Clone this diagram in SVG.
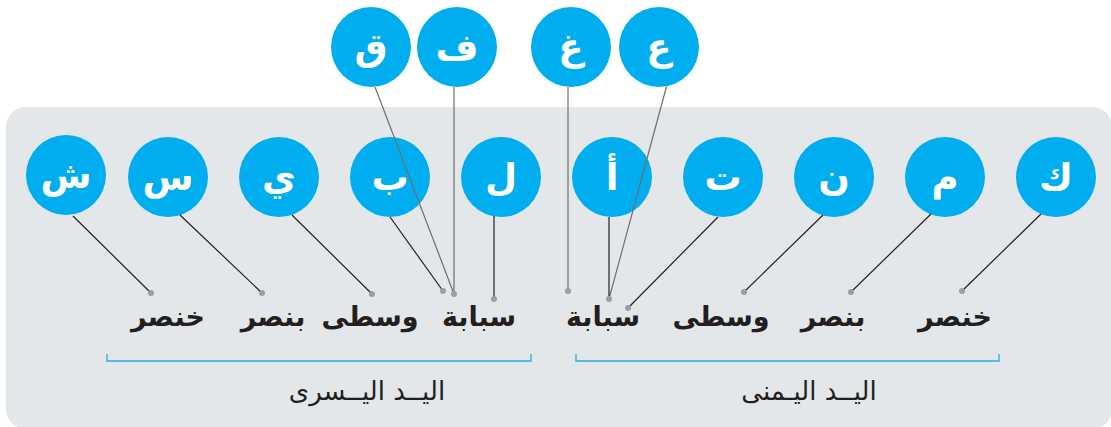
<svg xmlns="http://www.w3.org/2000/svg" width="1111" height="427" viewBox="0 0 1111 427">
  <style>
    .panel { fill: #e4e7ea; }
    .node circle { fill: #00aeef; }
    .node text { font-family: "DejaVu Sans", sans-serif; font-weight: bold; font-size: 37px; fill: #ffffff; text-anchor: middle; }
    .lead { stroke: #231f20; stroke-width: 1.2; fill: none; }
    .lead.top { stroke: #6d6e71; }
    .dot { fill: #9c9ea1; }
    .label { font-family: "DejaVu Sans", sans-serif; font-weight: bold; font-size: 27px; fill: #231f20; text-anchor: middle; }
    .hand { font-family: "DejaVu Sans", sans-serif; font-size: 26px; fill: #231f20; text-anchor: middle; }
    .brace { stroke: #29abe2; stroke-width: 1.3; fill: none; }
  </style>

  <!-- background card -->
  <rect class="panel" x="6" y="107" width="1106" height="322" rx="20" ry="20"/>

  <!-- letter nodes: upper row -->
  <g id="node-qaf" class="node"><circle cx="371" cy="47" r="40"/><text x="371" y="60">ق</text></g>
  <g id="node-fa" class="node"><circle cx="457" cy="47" r="40"/><text x="457" y="60">ف</text></g>
  <g id="node-ghain" class="node"><circle cx="571" cy="47" r="40"/><text x="571" y="60">غ</text></g>
  <g id="node-ain" class="node"><circle cx="659" cy="47" r="40"/><text x="659" y="60">ع</text></g>

  <!-- letter nodes: lower row -->
  <g id="node-shin" class="node"><circle cx="66" cy="175" r="40"/><text x="66" y="188">ش</text></g>
  <g id="node-sin" class="node"><circle cx="168" cy="177" r="40"/><text x="168" y="190">س</text></g>
  <g id="node-ya" class="node"><circle cx="279" cy="177" r="40"/><text x="279" y="190">ي</text></g>
  <g id="node-ba" class="node"><circle cx="390" cy="177" r="40"/><text x="390" y="190">ب</text></g>
  <g id="node-lam" class="node"><circle cx="501" cy="177" r="40"/><text x="501" y="190">ل</text></g>
  <g id="node-alif" class="node"><circle cx="612" cy="177" r="40"/><text x="612" y="190">أ</text></g>
  <g id="node-ta" class="node"><circle cx="723" cy="177" r="40"/><text x="723" y="190">ت</text></g>
  <g id="node-nun" class="node"><circle cx="834" cy="177" r="40"/><text x="834" y="190">ن</text></g>
  <g id="node-mim" class="node"><circle cx="945" cy="177" r="40"/><text x="945" y="190">م</text></g>
  <g id="node-kaf" class="node"><circle cx="1056" cy="177" r="40"/><text x="1056" y="190">ك</text></g>

  <!-- leader lines from letters to fingers -->
  <g id="connectors">
    <line class="lead" x1="73" y1="216" x2="151" y2="293"/>
    <line class="lead" x1="180" y1="215" x2="262" y2="293"/>
    <line class="lead" x1="292" y1="215" x2="372" y2="294"/>
    <line class="lead" x1="390" y1="217" x2="443" y2="291"/>
    <line class="lead" x1="494" y1="216" x2="494" y2="299"/>
    <line class="lead top" x1="375" y1="87" x2="454" y2="294"/>
    <line class="lead top" x1="454" y1="87" x2="454" y2="294"/>
    <line class="lead top" x1="568" y1="87" x2="568" y2="291"/>
    <line class="lead top" x1="666.5" y1="86.5" x2="609" y2="299"/>
    <line class="lead" x1="609" y1="217" x2="609" y2="299"/>
    <line class="lead" x1="718" y1="217" x2="628" y2="308"/>
    <line class="lead" x1="823" y1="215" x2="744" y2="292"/>
    <line class="lead" x1="931" y1="214" x2="851" y2="292"/>
    <line class="lead" x1="1041" y1="214" x2="962" y2="291"/>

    <circle class="dot" cx="151" cy="293" r="3"/>
    <circle class="dot" cx="262" cy="293" r="3"/>
    <circle class="dot" cx="372" cy="294" r="3"/>
    <circle class="dot" cx="443" cy="291" r="3"/>
    <circle class="dot" cx="454" cy="294" r="3"/>
    <circle class="dot" cx="494" cy="299" r="3"/>
    <circle class="dot" cx="568" cy="291" r="3"/>
    <circle class="dot" cx="609" cy="299" r="3"/>
    <circle class="dot" cx="628" cy="308" r="3"/>
    <circle class="dot" cx="744" cy="292" r="3"/>
    <circle class="dot" cx="851" cy="292" r="3"/>
    <circle class="dot" cx="962" cy="291" r="3"/>
  </g>

  <!-- finger names -->
  <g id="fingers-left">
    <text class="label" x="168" y="326">خنصر</text>
    <text class="label" x="273" y="326">بنصر</text>
    <text class="label" x="370" y="326">وسطى</text>
    <text class="label" x="479" y="326">سبابة</text>
  </g>
  <g id="fingers-right">
    <text class="label" x="603" y="326">سبابة</text>
    <text class="label" x="721" y="326">وسطى</text>
    <text class="label" x="833" y="326">بنصر</text>
    <text class="label" x="955" y="326">خنصر</text>
  </g>

  <!-- hand brackets -->
  <g id="hand-left">
    <path class="brace" d="M107,354 V361 H531 V354"/>
    <text class="hand" x="367" y="400">اليــد اليــسرى</text>
  </g>
  <g id="hand-right">
    <path class="brace" d="M576,354 V361 H999 V354"/>
    <text class="hand" x="809" y="400">اليــد اليـمنى</text>
  </g>
</svg>
